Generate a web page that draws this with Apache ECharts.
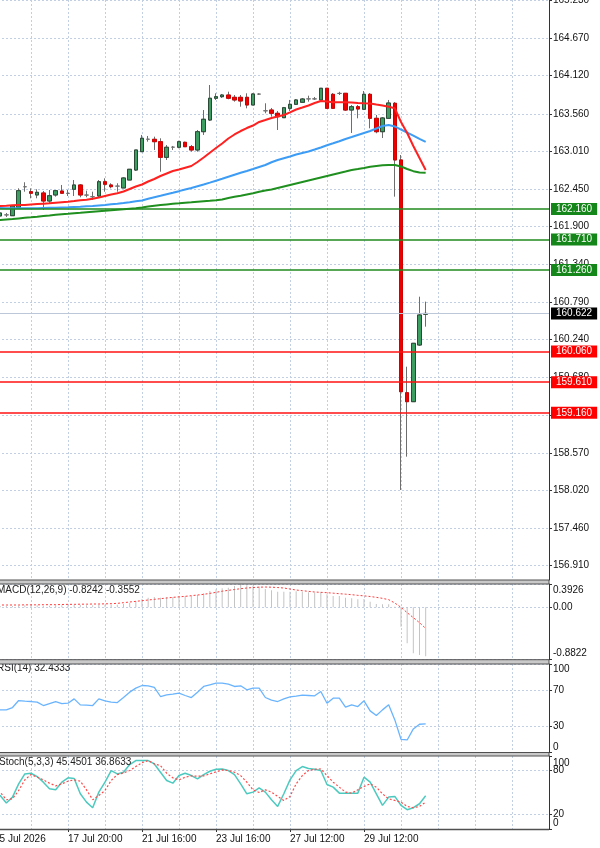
<!DOCTYPE html>
<html><head><meta charset="utf-8">
<script src="https://cdn.jsdelivr.net/npm/echarts@6/dist/echarts.min.js"></script>
<style>html,body{margin:0;padding:0;background:#fff}#c{width:600px;height:848px}</style>
</head><body><div id="c"></div>
<script>
// ---- data ----
const dateLabels = ['15 Jul 2026','17 Jul 20:00','21 Jul 16:00','23 Jul 16:00','27 Jul 12:00','29 Jul 12:00'];
const priceTicks = [165.230,164.670,164.120,163.560,163.010,162.450,161.900,161.340,160.790,160.240,159.680,159.130,158.570,158.020,157.460,156.910];
const macdTicks = [0.3926, 0, -0.8822];
const rsiTicks = [0, 30, 70, 100];
const stochLevelTicks = [20, 80];
const stochEdgeTicks = [0, 100];
const greenLevels = [162.160, 161.710, 161.260];
const redLevels = [160.060, 159.610, 159.160];
const lastPrice = 160.622;

const opens = [162.080,162.056,162.070,162.060,162.184,162.487,162.413,162.365,162.394,162.276,
162.365,162.423,162.390,162.449,162.512,162.365,162.340,162.350,162.560,162.512,
162.497,162.468,162.585,162.732,163.002,163.184,163.184,163.149,162.919,163.067,
163.067,163.140,163.075,163.027,163.296,163.468,163.788,163.811,163.836,163.802,
163.802,163.802,163.689,163.851,163.605,163.615,163.567,163.502,163.640,163.699,
163.729,163.777,163.777,163.763,163.935,163.846,163.861,163.861,163.615,163.664,
163.626,163.846,163.493,163.296,163.493,163.714,162.880,159.455,159.323,160.157,
160.610];
const closes = [162.085,162.100,162.073,162.203,162.428,162.484,162.390,162.404,162.276,162.354,
162.428,162.390,162.387,162.512,162.365,162.362,162.337,162.560,162.522,162.487,
162.494,162.615,162.743,163.027,163.199,163.187,163.149,162.919,163.067,163.070,
163.149,163.075,163.027,163.296,163.479,163.788,163.811,163.836,163.788,163.763,
163.748,163.689,163.851,163.848,163.602,163.567,163.517,163.649,163.699,163.763,
163.777,163.780,163.780,163.935,163.640,163.640,163.858,163.615,163.664,163.630,
163.846,163.493,163.296,163.498,163.718,162.880,159.470,159.323,160.182,160.599,
160.622];
const lows = [162.050,162.026,162.041,162.056,162.173,162.413,162.316,162.316,162.144,162.242,
162.340,162.379,162.350,162.350,162.331,162.331,162.291,162.335,162.413,162.463,
162.413,162.468,162.585,162.718,162.997,163.149,163.027,162.707,162.880,163.027,
163.052,163.071,163.002,163.002,163.248,163.454,163.763,163.792,163.773,163.738,
163.664,163.640,163.689,163.836,163.567,163.517,163.321,163.498,163.601,163.689,
163.718,163.738,163.763,163.763,163.630,163.630,163.836,163.601,163.277,163.493,
163.615,163.346,163.273,163.203,163.483,162.340,158.024,158.514,159.319,160.143,
160.427];
const highs = [162.110,162.129,162.100,162.217,162.463,162.552,162.463,162.449,162.423,162.438,
162.438,162.512,162.438,162.585,162.526,162.428,162.413,162.585,162.610,162.537,
162.537,162.625,162.747,163.027,163.248,163.233,163.223,163.199,163.100,163.086,
163.164,163.149,163.100,163.321,163.615,163.983,163.861,163.851,163.885,163.836,
163.836,163.861,163.861,163.861,163.714,163.645,163.601,163.660,163.763,163.777,
163.792,163.826,163.807,163.939,163.939,163.865,163.883,163.865,163.689,163.689,
163.895,163.865,163.542,163.512,163.763,163.733,162.953,159.838,160.187,160.868,
160.795];
const maRed = [162.199,162.203,162.207,162.213,162.217,162.217,162.225,162.232,162.237,162.242,
162.251,162.259,162.266,162.276,162.287,162.295,162.310,162.328,162.350,162.372,
162.390,162.416,162.453,162.490,162.519,162.563,162.600,162.644,162.681,162.718,
162.740,162.766,162.791,162.850,162.916,162.987,163.056,163.122,163.196,163.255,
163.306,163.350,163.387,163.439,163.468,163.498,163.520,163.542,163.581,163.623,
163.652,163.682,163.718,163.748,163.740,163.729,163.729,163.729,163.726,163.718,
163.714,163.711,163.696,163.682,163.664,163.640,163.439,163.277,163.086,162.909,
162.733];
const maBlue = [162.173,162.173,162.170,162.169,162.169,162.169,162.169,162.170,162.173,162.176,
162.178,162.181,162.184,162.188,162.192,162.198,162.203,162.210,162.217,162.228,
162.237,162.247,162.259,162.272,162.284,162.309,162.331,162.353,162.376,162.397,
162.421,162.446,162.468,162.494,162.519,162.546,162.575,162.604,162.634,162.663,
162.691,162.718,162.747,162.777,162.806,162.846,162.880,162.906,162.931,162.961,
162.983,163.005,163.034,163.064,163.096,163.125,163.155,163.189,163.218,163.248,
163.277,163.306,163.343,163.380,163.395,163.373,163.328,163.284,163.237,163.189,
163.145];
const maGreen = [161.990,161.997,162.004,162.011,162.020,162.029,162.036,162.045,162.056,162.064,
162.073,162.082,162.089,162.097,162.104,162.112,162.119,162.126,162.132,162.139,
162.147,162.154,162.162,162.170,162.181,162.195,162.207,162.217,162.226,162.235,
162.242,162.250,162.257,162.265,162.272,162.279,162.288,162.298,162.320,162.338,
162.353,162.372,162.391,162.412,162.431,162.446,162.468,162.490,162.512,162.534,
162.556,162.578,162.600,162.622,162.644,162.666,162.688,162.710,162.733,162.747,
162.762,162.780,162.791,162.802,162.806,162.806,162.784,162.747,162.715,162.696,
162.693];
const macdHist = [0.022,0.022,0.022,0.022,0.0275,0.0331,0.0331,0.0331,0.0275,0.0275,
0.0331,0.0331,0.0331,0.0387,0.0387,0.0331,0.0331,0.0443,0.0443,0.0443,
0.0443,0.0556,0.0724,0.1061,0.1397,0.1622,0.1734,0.1622,0.1678,0.1734,
0.1846,0.1902,0.1902,0.2071,0.2351,0.2744,0.3025,0.3193,0.3305,0.36,
0.3926,0.37,0.365,0.35,0.3081,0.2856,0.2632,0.2632,0.2632,0.2688,
0.2632,0.2520,0.2464,0.2520,0.2183,0.1902,0.1902,0.1622,0.1510,0.1341,
0.1397,0.0948,0.0556,0.0499,0.0499,0.0107,-0.3260,-0.6066,-0.7750,-0.8025,
-0.8242];
const macdSignal = [0.0387,0.0387,0.0387,0.0387,0.0387,0.0415,0.0415,0.0415,0.0443,0.0443,
0.0443,0.0471,0.0499,0.0499,0.0527,0.0527,0.0556,0.0556,0.0584,0.0612,
0.0668,0.0780,0.0892,0.1004,0.1117,0.1229,0.1341,0.1453,0.1566,0.1678,
0.1762,0.1846,0.1958,0.2071,0.2183,0.2351,0.2520,0.2716,0.2856,0.2997,
0.3137,0.3249,0.3333,0.3389,0.3418,0.3389,0.3333,0.3249,0.3081,0.2912,
0.2800,0.2688,0.2576,0.2520,0.2464,0.2379,0.2295,0.2211,0.2127,0.2015,
0.1930,0.1818,0.1678,0.1510,0.1285,0.0724,-0.0006,-0.0903,-0.1745,-0.2587,
-0.3552];
const rsi = [48.0,48.16,48.16,50.80,58.73,57.98,57.60,56.85,53.07,55.34,
57.60,55.34,55.71,60.62,53.82,53.45,53.07,60.62,58.36,56.85,
56.47,62.13,68.18,72.71,75.73,75.35,73.47,63.27,65.16,65.91,
67.04,64.40,62.13,68.18,74.60,76.49,78.38,78.38,77.24,74.60,
75.35,70.82,72.71,72.71,62.13,59.11,57.60,60.62,62.89,63.64,
64.78,64.40,64.02,68.93,55.71,61.38,61.38,51.18,53.82,51.94,
58.36,47.03,41.74,48.16,53.82,36.83,14.92,14.16,26.63,31.92,
32.4333];
const stochK = [42.0,45.95,35.5,43.68,61.86,75.5,76.41,71.86,64.14,55.05,
53.68,64.14,70.05,69.14,48.23,36.86,29.14,50.5,64.14,80.05,
75.5,77.77,88.23,93.68,93.68,93.68,89.14,77.77,66.41,62.77,
73.23,76.41,73.23,68.68,74.59,79.14,81.86,82.32,80.05,74.59,
61.86,48.23,50.5,56.41,50.5,40.05,30.95,48.23,67.32,80.05,
85.5,82.77,81.86,80.05,60.95,57.32,49.14,49.14,49.14,49.14,
70.95,64.14,48.23,32.32,43.68,44.59,32.32,26.41,29.14,34.59,
45.4501];
const stochD = [48.0,50.5,40.05,41.41,52.77,67.32,74.59,70.95,67.32,62.77,
59.14,61.86,65.5,67.32,65.5,53.68,40.05,45.91,52.77,66.41,
74.59,76.86,80.05,85.5,90.95,93.68,89.14,86.86,76.41,70.05,
67.32,70.95,72.77,72.32,72.77,75.45,78.23,80.95,80.05,77.77,
73.18,64.14,53.68,50.05,53.68,50.5,44.59,39.14,44.59,61.86,
73.18,80.05,81.86,82.32,73.18,64.14,57.32,50.5,49.14,53.68,
58.23,61.86,57.32,48.23,41.41,39.14,36.86,30.95,29.14,30.95,
36.8633];

// ---- chart ----
const SLOTS = 91;
const cats = Array.from({length: SLOTS}, (_, i) => String(i));
const FONT = 'Liberation Sans';
const gridDash = {show: true, lineStyle: {color: '#c2cee2', width: 1, type: [2, 2]}};
const lbl = {color: '#111', fontSize: 10, fontFamily: FONT};

const grids = [
  {left: -6, right: 51, top: 0, height: 580},
  {left: -6, right: 51, top: 584, height: 75.7},
  {left: -6, right: 51, top: 664, height: 88.5},
  {left: -6, right: 51, top: 756, height: 73}
].map(g => Object.assign(g, {outerBoundsMode: 'none', containLabel: false}));

function xAx(i, showLabels) {
  return {
    type: 'category', gridIndex: i, data: cats, boundaryGap: false,
    axisLine: {show: false},
    axisTick: {show: showLabels, interval: idx => idx % 12 === 0 && idx <= 60, length: 3, lineStyle: {color: '#333'}},
    axisLabel: Object.assign({show: showLabels, interval: idx => idx % 12 === 0 && idx <= 60, hideOverlap: false,
      formatter: (v, idx) => dateLabels[idx / 12] || '', align: 'left', margin: 5}, lbl),
    splitLine: {show: true, interval: idx => idx % 6 === 0, lineStyle: {color: '#c2cee2', width: 1, type: [2, 2]}}
  };
}
function yAx(i, min, max, ticks, fmt, padT, padB, opts) {
  opts = opts || {};
  const rich = {
    t: Object.assign({padding: [padT, 0, 0, 0]}, lbl),
    b: Object.assign({padding: [0, 0, padB, 0]}, lbl),
    n: Object.assign({}, lbl)
  };
  return {
    type: 'value', gridIndex: i, position: 'right', min: min, max: max, scale: true,
    axisLine: {show: opts.noLine ? false : true, onZero: false, lineStyle: {color: '#333', width: 1}},
    axisTick: {show: true, customValues: ticks, length: 3, lineStyle: {color: '#333'}},
    axisLabel: Object.assign({customValues: ticks, margin: 4, rich: rich, hideOverlap: false,
      showMinLabel: true, showMaxLabel: true,
      formatter: v => {
        const s = fmt(v);
        if (padT && Math.abs(v - max) < 1e-9) return '{t|' + s + '}';
        if (padB && Math.abs(v - min) < 1e-9) return '{b|' + s + '}';
        return '{n|' + s + '}';
      }}, lbl),
    splitLine: opts.noSplit ? {show: false} : gridDash
  };
}

const candleWicks = opens.map((o, i) => [o, closes[i], lows[i], highs[i]]);
const candleBodies = opens.map((o, i) => Math.abs(o - closes[i]) < 0.004 ? '-' :
  [o, closes[i], Math.min(o, closes[i]), Math.max(o, closes[i])]);

const lvlLabel = (bg) => ({show: true, position: 'end', distance: 2, color: '#fff', backgroundColor: bg,
  padding: [1, 5, 1, 5], fontSize: 10, fontFamily: FONT, formatter: p => p.name});

const markData = [].concat(
  greenLevels.map(v => ({name: v.toFixed(3), yAxis: v, lineStyle: {color: '#1f8a1f', width: 1.6, type: 'solid'}, label: lvlLabel('#15871a')})),
  redLevels.map(v => ({name: v.toFixed(3), yAxis: v, lineStyle: {color: '#ff1010', width: 1.6, type: 'solid'}, label: lvlLabel('#ff0000')})),
  [{name: lastPrice.toFixed(3), yAxis: lastPrice, lineStyle: {color: '#bcc7d9', width: 1, type: 'solid'}, label: lvlLabel('#000000')}]
);

const titleStyle = {fontSize: 10, fontWeight: 'normal', color: '#222', fontFamily: FONT};
const last = a => a[a.length - 1];

const option = {
  animation: false,
  backgroundColor: '#ffffff',
  title: [
    {text: 'MACD(12,26,9) ' + last(macdHist).toFixed(4) + ' ' + last(macdSignal).toFixed(4), left: -3, top: 585, padding: 0, textStyle: titleStyle},
    {text: 'RSI(14) ' + last(rsi).toFixed(4), left: -3, top: 663, padding: 0, textStyle: titleStyle},
    {text: 'Stoch(5,3,3) ' + last(stochK).toFixed(4) + ' ' + last(stochD).toFixed(4), left: -1, top: 757, padding: 0, textStyle: titleStyle}
  ],
  grid: grids,
  xAxis: [xAx(0, false), xAx(1, false), xAx(2, false), xAx(3, true)],
  yAxis: [
    yAx(0, 156.699, 165.234, priceTicks, v => v.toFixed(3), 0, 0),
    yAx(1, -0.8822, 0.3926, macdTicks, v => (v === 0 ? '0.00' : v.toFixed(4)), 12, 13),
    yAx(2, 0, 100, rsiTicks, v => String(v), 10, 11),
    yAx(3, 0, 100, stochLevelTicks, v => String(v), 0, 0),
    yAx(3, 0, 100, stochEdgeTicks, v => String(v), 14, 12, {noLine: true, noSplit: true})
  ],
  graphic: [
    {type: 'rect', z: 100, shape: {x: -1, y: 580, width: 550, height: 4}, style: {fill: '#c9c9c9', stroke: '#505050', lineWidth: 1}},
    {type: 'rect', z: 100, shape: {x: -1, y: 659.7, width: 550, height: 4.3}, style: {fill: '#c9c9c9', stroke: '#505050', lineWidth: 1}},
    {type: 'rect', z: 100, shape: {x: -1, y: 752.5, width: 550, height: 3.5}, style: {fill: '#c9c9c9', stroke: '#505050', lineWidth: 1}},
    {type: 'line', z: 100, shape: {x1: 0, y1: 829.5, x2: 549, y2: 829.5}, style: {stroke: '#505050', lineWidth: 1.5}}
  ],
  series: [
    {type: 'candlestick', name: 'wicks', xAxisIndex: 0, yAxisIndex: 0, data: candleWicks, barWidth: 4,
      itemStyle: {color: 'rgba(0,0,0,0)', color0: 'rgba(0,0,0,0)', borderColor: '#6e6e6e', borderColor0: '#6e6e6e', borderWidth: 1},
      markLine: {symbol: ['none', 'none'], silent: true, animation: false, precision: 3, data: markData}},
    {type: 'candlestick', name: 'bodies', xAxisIndex: 0, yAxisIndex: 0, data: candleBodies, barWidth: 4, z: 3,
      itemStyle: {color: '#3d9e62', color0: '#ee0000', borderColor: '#2a4a36', borderColor0: '#d00000', borderWidth: 1}},
    {type: 'line', xAxisIndex: 0, yAxisIndex: 0, data: maGreen, showSymbol: false, z: 4, lineStyle: {color: '#1f8f1f', width: 2}},
    {type: 'line', xAxisIndex: 0, yAxisIndex: 0, data: maBlue, showSymbol: false, z: 4, lineStyle: {color: '#3d9cf5', width: 2}},
    {type: 'line', xAxisIndex: 0, yAxisIndex: 0, data: maRed, showSymbol: false, z: 4, lineStyle: {color: '#ff2020', width: 2}},
    {type: 'bar', xAxisIndex: 1, yAxisIndex: 1, data: macdHist, barWidth: 1, itemStyle: {color: '#c4c4c4'}},
    {type: 'line', xAxisIndex: 1, yAxisIndex: 1, data: macdSignal, showSymbol: false, lineStyle: {color: '#ff3b3b', width: 1, type: [2, 2]}},
    {type: 'line', xAxisIndex: 2, yAxisIndex: 2, data: rsi, showSymbol: false, lineStyle: {color: '#6ab4ff', width: 1.3}},
    {type: 'line', xAxisIndex: 3, yAxisIndex: 3, data: stochK, showSymbol: false, lineStyle: {color: '#4ccac0', width: 1.5}},
    {type: 'line', xAxisIndex: 3, yAxisIndex: 3, data: stochD, showSymbol: false, lineStyle: {color: '#ff4a4a', width: 1.2, type: [2, 2]}}
  ]
};
const chart = echarts.init(document.getElementById('c'), null, {renderer: 'canvas'});
chart.setOption(option);
</script>
</body></html>
